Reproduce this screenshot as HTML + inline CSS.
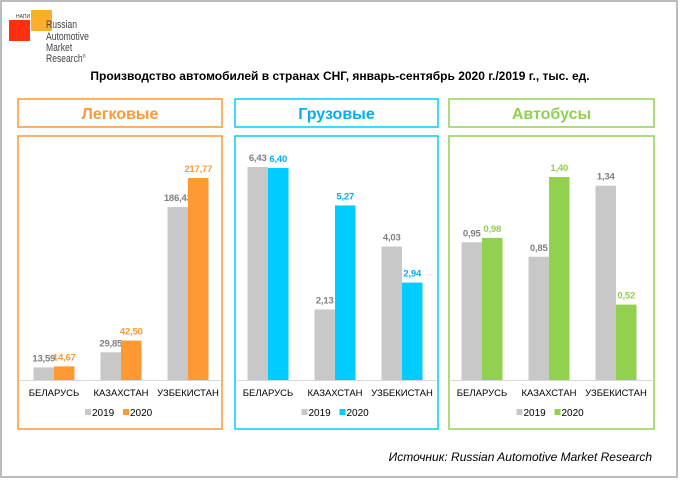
<!DOCTYPE html>
<html><head><meta charset="utf-8"><style>
html,body{margin:0;padding:0;background:#fff}
body{width:680px;height:479px;position:relative;overflow:hidden;font-family:"Liberation Sans",sans-serif}
</style></head><body>
<svg id="c" width="680" height="479" xmlns="http://www.w3.org/2000/svg" font-family="Liberation Sans, sans-serif">
<rect x="1" y="1" width="676" height="476" fill="#fff" stroke="#a6a6a6" stroke-width="1.5"/>
<g>
<rect x="9" y="20" width="21" height="21" fill="#ff3010"/>
<rect x="31" y="10" width="21" height="21" fill="#ffae2a"/>
<text x="16" y="18" font-size="5" fill="#333">НАПИ</text>
<text x="46" y="28" font-size="11" fill="#444" transform="scale(0.78,1)" transform-origin="46 28">Russian</text>
<text x="46" y="40" font-size="11" fill="#444" transform="scale(0.78,1)" transform-origin="46 40">Automotive</text>
<text x="46" y="51" font-size="11" fill="#444" transform="scale(0.78,1)" transform-origin="46 51">Market</text>
<text x="46" y="62" font-size="11" fill="#444" transform="scale(0.78,1)" transform-origin="46 62">Research<tspan font-size="5" dy="-4">®</tspan></text>
</g>
<text x="340" y="80" text-anchor="middle" font-size="12" font-weight="bold" fill="#000">Производство автомобилей в странах СНГ, январь-сентябрь 2020 г./2019 г., тыс. ед.</text>
<g id="panels"></g>
<text x="652" y="461" text-anchor="end" font-size="12" font-style="italic" fill="#000">Источник: Russian Automotive Market Research</text>
</svg>
<script>
const categories = ["БЕЛАРУСЬ","КАЗАХСТАН","УЗБЕКИСТАН"];
const panelTitles = ["Легковые","Грузовые","Автобусы"];
const values2019Cars = [13.59, 29.85, 186.43];
const values2020Cars = [14.67, 42.50, 217.77];
const values2019Trucks = [6.43, 2.13, 4.03];
const values2020Trucks = [6.40, 5.27, 2.94];
const values2019Buses = [0.95, 0.85, 1.34];
const values2020Buses = [0.98, 1.40, 0.52];
const seriesNames = ["2019","2020"];

const NS="http://www.w3.org/2000/svg";
const root=document.getElementById('panels');
function mk(tag,attrs,parent,text){const e=document.createElementNS(NS,tag);for(const k in attrs)e.setAttribute(k,attrs[k]);if(text!==undefined)e.textContent=text;parent.appendChild(e);return e;}
const panels=[
 {x:18,w:204,c0:54,color:"#ff9933",lbl:"#ff9933",v1:values2019Cars,v2:values2020Cars,max:217.77,key:"cars"},
 {x:235,w:203,c0:268,color:"#00ccff",lbl:"#00b0f0",v1:values2019Trucks,v2:values2020Trucks,max:6.43,key:"trucks"},
 {x:449,w:205,c0:482,color:"#92d050",lbl:"#92d050",v1:values2019Buses,v2:values2020Buses,max:1.40,key:"buses"}
];
const hMax=[202,213,203];
const base=380;
panels.forEach((p,pi)=>{
 const g=mk('g',{},root);
 
 
 const hb=mk('rect',{x:p.x,y:99,width:p.w,height:28,fill:'#fff',stroke:p.color,'stroke-width':1.5},g);
 
 
 const ht=mk('text',{x:p.x+p.w/2,y:119,'text-anchor':'middle','font-size':16,'font-weight':'bold',fill:p.lbl},g,panelTitles[pi]);
 
 
 const bb=mk('rect',{x:p.x,y:136,width:p.w,height:293,fill:'#fff',stroke:p.color,'stroke-width':1.5},g);
 
 
 const ax=mk('line',{x1:p.x+2,x2:p.x+p.w-2,y1:base+0.5,y2:base+0.5,stroke:'#d9d9d9'},g);
 
 
 const scale=v=>v/p.max*hMax[pi];
 categories.forEach((c,i)=>{
  const cx=p.c0+67*i;
  [[p.v1[i],'#c8c8c8','#7f7f7f',-1],[p.v2[i],p.color,p.lbl,0]].forEach(([v,col,tc,off],si)=>{
   const h=scale(v);const bx=cx+off*20.5;
   const r=mk('rect',{x:bx,y:base-h,width:20.5,height:h,fill:col},g);
   
   
   const t=mk('text',{x:bx+10.25,y:base-h-6,'text-anchor':'middle','font-size':9.5,'font-weight':'bold','letter-spacing':'-0.2',fill:tc},g,v.toFixed(2).replace('.',','));
   
   
  });
  const ct=mk('text',{x:cx,y:396,'text-anchor':'middle','font-size':9.5,fill:'#000'},g,c);
  
  
 });
 const lx=p.x+p.w/2-35;
 const l1=mk('rect',{x:lx,y:409,width:6,height:6,fill:'#c8c8c8'},g);
 
 
 const lt1=mk('text',{x:lx+7,y:416,'font-size':10,fill:'#000'},g,seriesNames[0]);
 
 
 const l2=mk('rect',{x:lx+38,y:409,width:6,height:6,fill:p.color},g);
 
 
 const lt2=mk('text',{x:lx+45,y:416,'font-size':10,fill:'#000'},g,seriesNames[1]);
 
 
});
</script>
</body></html>
